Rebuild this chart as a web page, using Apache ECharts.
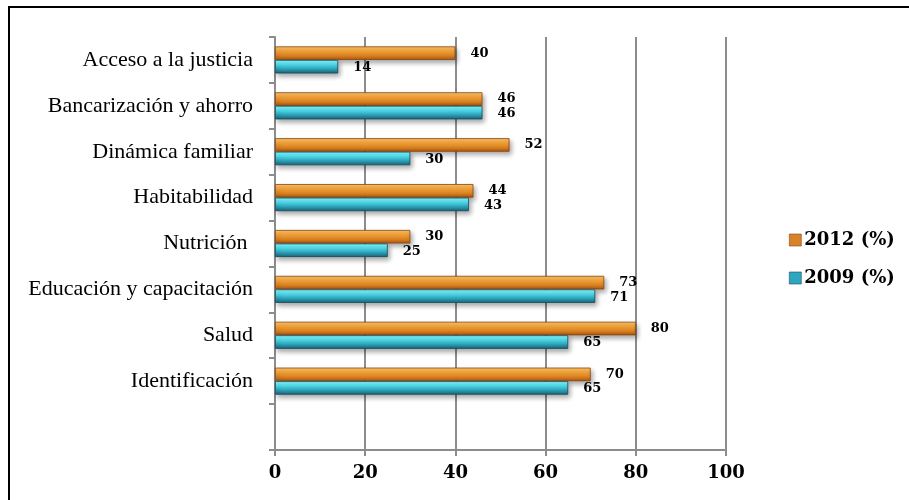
<!DOCTYPE html>
<html><head><meta charset="utf-8">
<script src="https://cdn.jsdelivr.net/npm/echarts@6/dist/echarts.min.js"></script>
<style>html,body{margin:0;padding:0;background:#fff}#c{width:909px;height:500px}</style>
</head><body><div id="c"></div>
<script>
const categories = ['Acceso a la justicia','Bancarización y ahorro','Dinámica familiar','Habitabilidad','Nutrición ','Educación y capacitación','Salud','Identificación',''];
const values2012 = [40,46,52,44,30,73,80,70,null];
const values2009 = [14,46,30,43,25,71,65,65,null];
const xTicks = [0,20,40,60,80,100];
const seriesNames = ['2012 (%)','2009 (%)'];

const serif = "'Liberation Serif','DejaVu Serif',serif";
const wideSerif = "'DejaVu Serif','Liberation Serif',serif";
const orange = new echarts.graphic.LinearGradient(0,0,0,1,[
  {offset:0,color:'#fbc56a'},{offset:0.35,color:'#f5a53a'},{offset:0.7,color:'#d9801f'},{offset:1,color:'#a85412'}]);
const cyan = new echarts.graphic.LinearGradient(0,0,0,1,[
  {offset:0,color:'#8af6fc'},{offset:0.35,color:'#4fdcec'},{offset:0.7,color:'#2a9cb4'},{offset:1,color:'#1b5f72'}]);
const chart = echarts.init(document.getElementById('c'));
chart.setOption({
  animation:false,
  graphic:[{type:'rect',shape:{x:9,y:7,width:1000,height:600},style:{fill:'none',stroke:'#000',lineWidth:2},z:-1}],
  grid:{left:275,right:183,top:37,bottom:50},
  legend:{orient:'vertical',left:784,top:226,itemGap:20,itemWidth:12,itemHeight:12,
    textStyle:{fontFamily:wideSerif,fontWeight:'bold',fontSize:18,color:'#000',padding:[0,0,0,-2]},
    data:[{name:seriesNames[0],icon:'rect',itemStyle:{color:'#d98228',borderColor:'#8a4410',borderWidth:0.6}},
          {name:seriesNames[1],icon:'rect',itemStyle:{color:'#2fa6bf',borderColor:'#164c5c',borderWidth:0.6}}]},
  xAxis:{type:'value',min:0,max:100,interval:20,
    axisLine:{show:true,lineStyle:{color:'#8c8c8c',width:2}},
    axisTick:{show:true,length:6,lineStyle:{color:'#8c8c8c',width:2}},
    splitLine:{show:true,lineStyle:{color:'#8c8c8c',width:2}},
    axisLabel:{fontFamily:wideSerif,fontWeight:'bold',fontSize:18,color:'#000',margin:14,
      formatter:v=>xTicks.includes(v)?String(v):''}},
  yAxis:{type:'category',inverse:true,data:categories,
    axisLine:{show:true,lineStyle:{color:'#8c8c8c',width:2}},
    axisTick:{show:true,length:6,lineStyle:{color:'#8c8c8c',width:2}},
    axisLabel:{fontFamily:serif,fontSize:22,color:'#000',margin:22}},
  series:[
    {name:seriesNames[0],type:'bar',data:values2012,barGap:'0%',barCategoryGap:'41%',
     itemStyle:{color:orange,borderColor:'#8a4410',borderWidth:0.8,shadowColor:'rgba(0,0,0,0.35)',shadowBlur:5,shadowOffsetY:3,shadowOffsetX:2},
     label:{show:true,position:'right',distance:15,offset:[0,0],fontFamily:wideSerif,fontWeight:'bold',fontSize:13,color:'#000'}},
    {name:seriesNames[1],type:'bar',data:values2009,
     itemStyle:{color:cyan,borderColor:'#164c5c',borderWidth:0.8,shadowColor:'rgba(0,0,0,0.35)',shadowBlur:5,shadowOffsetY:3,shadowOffsetX:2},
     label:{show:true,position:'right',distance:15,offset:[0,1],fontFamily:wideSerif,fontWeight:'bold',fontSize:13,color:'#000'}}
  ]
});
</script></body></html>
